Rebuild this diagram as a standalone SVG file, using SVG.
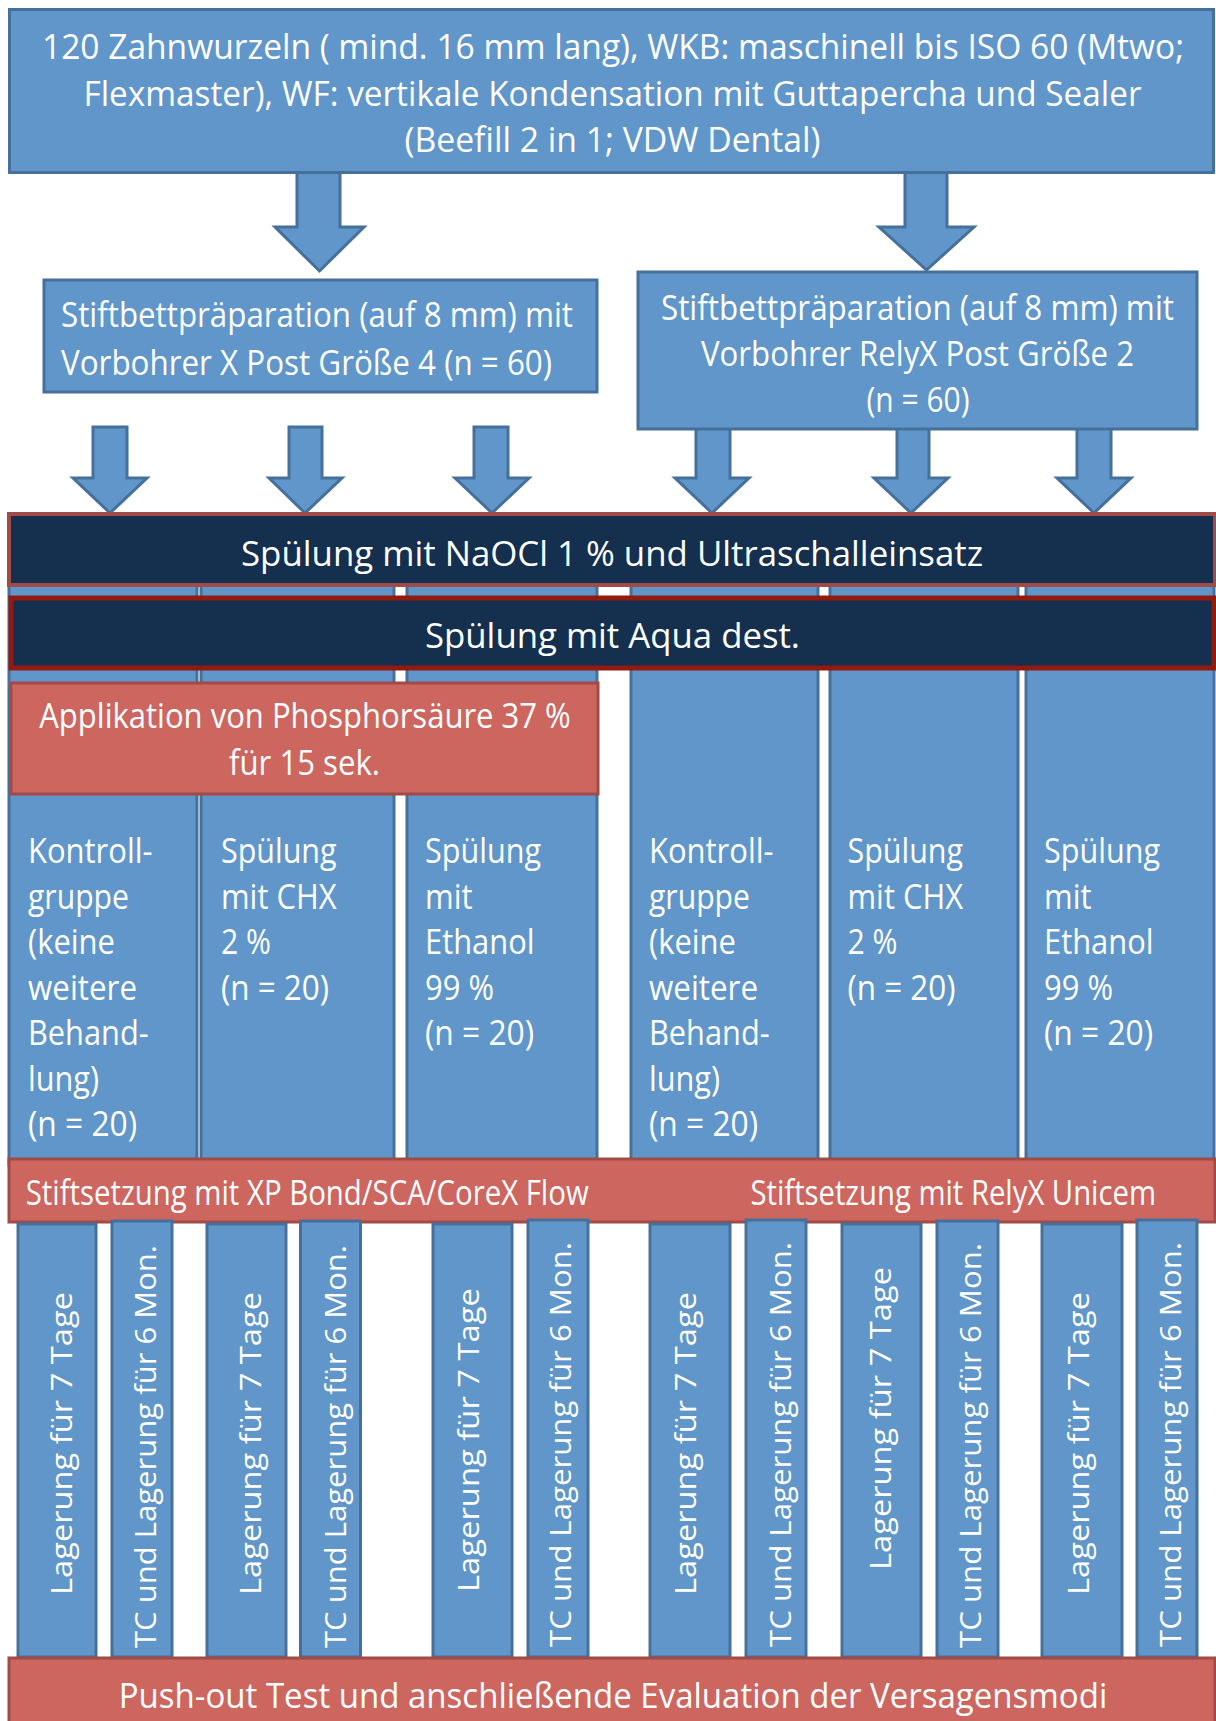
<svg xmlns="http://www.w3.org/2000/svg" width="1216" height="1721" viewBox="0 0 1216 1721">
<defs>
<style>
.blue{fill:#6196CA;stroke:#45709C;stroke-width:3}
.arrow{fill:#6196CA;stroke:#45709C;stroke-width:3;stroke-linejoin:miter}
.navy1{fill:#152F4F;stroke:#A04B48;stroke-width:4}
.navy2{fill:#152F4F;stroke:#931A0F;stroke-width:5}
.red{fill:#CD665F;stroke:#A04B46;stroke-width:3}
.t{font-family:"Open Sans","Liberation Sans",sans-serif;font-size:34px;fill:#FFFFFF}
.c{text-anchor:middle}
.v{font-family:"Open Sans","Liberation Sans",sans-serif;font-size:30px;fill:#FFFFFF;text-anchor:middle}
</style>
</defs>
<rect width="1216" height="1721" fill="#FFFFFF"/>

<g id="connectors">
<polygon class="arrow" points="297,165 340,165 340,227 364,227 319.5,271 275,227 297,227"/>
<polygon class="arrow" points="905,165 947,165 947,227 974,227 926.5,270 879,227 905,227"/>
<polygon class="arrow" points="93,427 127,427 127,478 147,478 110,513 73,478 93,478"/>
<polygon class="arrow" points="289,427 322,427 322,478 342,478 305,513 269,478 289,478"/>
<polygon class="arrow" points="474,427 508,427 508,478 529,478 492,513 455,478 474,478"/>
<polygon class="arrow" points="696,420 730,420 730,478 749,478 712,513 675,478 696,478"/>
<polygon class="arrow" points="897,420 929,420 929,478 948,478 911,513 874,478 897,478"/>
<polygon class="arrow" points="1077,420 1111,420 1111,478 1131,478 1094,513 1057,478 1077,478"/>
</g>

<g id="start">
<rect class="blue" x="9.5" y="9.5" width="1204" height="163"/>
<text class="t c" x="613" y="59" textLength="1142" lengthAdjust="spacingAndGlyphs">120 Zahnwurzeln ( mind. 16 mm lang), WKB: maschinell bis ISO 60 (Mtwo;</text>
<text class="t c" x="612.5" y="105.5" textLength="1058" lengthAdjust="spacingAndGlyphs">Flexmaster), WF: vertikale Kondensation mit Guttapercha und Sealer</text>
<text class="t c" x="612.5" y="152" textLength="416" lengthAdjust="spacingAndGlyphs">(Beefill 2 in 1; VDW Dental)</text>
</g>

<g id="prep-xpost">
<rect class="blue" x="44" y="280" width="553" height="112"/>
<text class="t" x="61" y="327" textLength="512" lengthAdjust="spacingAndGlyphs">Stiftbettpräparation (auf 8 mm) mit</text>
<text class="t" x="61" y="375" textLength="491" lengthAdjust="spacingAndGlyphs">Vorbohrer X Post Größe 4 (n = 60)</text>
</g>

<g id="prep-relyx">
<rect class="blue" x="638" y="272" width="559" height="157"/>
<text class="t c" x="917.5" y="320" textLength="513" lengthAdjust="spacingAndGlyphs">Stiftbettpräparation (auf 8 mm) mit</text>
<text class="t c" x="917.5" y="366" textLength="433" lengthAdjust="spacingAndGlyphs">Vorbohrer RelyX Post Größe 2</text>
<text class="t c" x="918" y="412" textLength="103" lengthAdjust="spacingAndGlyphs">(n = 60)</text>
</g>

<g id="col1">
<rect class="blue" x="9" y="530" width="188" height="635"/>
<text class="t" x="28" y="863" textLength="124.5" lengthAdjust="spacingAndGlyphs">Kontroll-</text>
<text class="t" x="28" y="908.5" textLength="101" lengthAdjust="spacingAndGlyphs">gruppe</text>
<text class="t" x="28" y="954" textLength="87" lengthAdjust="spacingAndGlyphs">(keine</text>
<text class="t" x="28" y="999.5" textLength="109" lengthAdjust="spacingAndGlyphs">weitere</text>
<text class="t" x="28" y="1045" textLength="120.6" lengthAdjust="spacingAndGlyphs">Behand-</text>
<text class="t" x="28" y="1090.5" textLength="71" lengthAdjust="spacingAndGlyphs">lung)</text>
<text class="t" x="28" y="1136" textLength="109" lengthAdjust="spacingAndGlyphs">(n = 20)</text>
</g>
<g id="col2">
<rect class="blue" x="201" y="530" width="193" height="635"/>
<text class="t" x="221" y="863" textLength="115.5" lengthAdjust="spacingAndGlyphs">Spülung</text>
<text class="t" x="221" y="908.5" textLength="115.5" lengthAdjust="spacingAndGlyphs">mit CHX</text>
<text class="t" x="221" y="954" textLength="50" lengthAdjust="spacingAndGlyphs">2 %</text>
<text class="t" x="221" y="999.5" textLength="108" lengthAdjust="spacingAndGlyphs">(n = 20)</text>
</g>
<g id="col3">
<rect class="blue" x="407" y="530" width="190" height="635"/>
<text class="t" x="425" y="863" textLength="116" lengthAdjust="spacingAndGlyphs">Spülung</text>
<text class="t" x="425" y="908.5" textLength="47.5" lengthAdjust="spacingAndGlyphs">mit</text>
<text class="t" x="425" y="954" textLength="109.5" lengthAdjust="spacingAndGlyphs">Ethanol</text>
<text class="t" x="425" y="999.5" textLength="69" lengthAdjust="spacingAndGlyphs">99 %</text>
<text class="t" x="425" y="1045" textLength="109" lengthAdjust="spacingAndGlyphs">(n = 20)</text>
</g>
<g id="col4">
<rect class="blue" x="631" y="530" width="187" height="635"/>
<text class="t" x="649" y="863" textLength="124.5" lengthAdjust="spacingAndGlyphs">Kontroll-</text>
<text class="t" x="649" y="908.5" textLength="101" lengthAdjust="spacingAndGlyphs">gruppe</text>
<text class="t" x="649" y="954" textLength="87" lengthAdjust="spacingAndGlyphs">(keine</text>
<text class="t" x="649" y="999.5" textLength="109" lengthAdjust="spacingAndGlyphs">weitere</text>
<text class="t" x="649" y="1045" textLength="120.6" lengthAdjust="spacingAndGlyphs">Behand-</text>
<text class="t" x="649" y="1090.5" textLength="71" lengthAdjust="spacingAndGlyphs">lung)</text>
<text class="t" x="649" y="1136" textLength="109" lengthAdjust="spacingAndGlyphs">(n = 20)</text>
</g>
<g id="col5">
<rect class="blue" x="830" y="530" width="188" height="635"/>
<text class="t" x="847.5" y="863" textLength="115.5" lengthAdjust="spacingAndGlyphs">Spülung</text>
<text class="t" x="847.5" y="908.5" textLength="115.5" lengthAdjust="spacingAndGlyphs">mit CHX</text>
<text class="t" x="847.5" y="954" textLength="50" lengthAdjust="spacingAndGlyphs">2 %</text>
<text class="t" x="847.5" y="999.5" textLength="108" lengthAdjust="spacingAndGlyphs">(n = 20)</text>
</g>
<g id="col6">
<rect class="blue" x="1026" y="530" width="188" height="635"/>
<text class="t" x="1044" y="863" textLength="116" lengthAdjust="spacingAndGlyphs">Spülung</text>
<text class="t" x="1044" y="908.5" textLength="47.5" lengthAdjust="spacingAndGlyphs">mit</text>
<text class="t" x="1044" y="954" textLength="109.5" lengthAdjust="spacingAndGlyphs">Ethanol</text>
<text class="t" x="1044" y="999.5" textLength="69" lengthAdjust="spacingAndGlyphs">99 %</text>
<text class="t" x="1044" y="1045" textLength="109" lengthAdjust="spacingAndGlyphs">(n = 20)</text>
</g>

<g id="naocl">
<rect class="navy1" x="9" y="514" width="1206" height="71"/>
<text class="t c" x="612" y="566" textLength="742" lengthAdjust="spacingAndGlyphs">Spülung mit NaOCl 1 % und Ultraschalleinsatz</text>
</g>
<g id="aqua">
<rect class="navy2" x="11" y="598" width="1203" height="70"/>
<text class="t c" x="612.5" y="648" textLength="375" lengthAdjust="spacingAndGlyphs">Spülung mit Aqua dest.</text>
</g>
<g id="phosphor">
<rect class="red" x="11" y="683" width="587" height="111"/>
<text class="t c" x="305" y="728" textLength="531.5" lengthAdjust="spacingAndGlyphs">Applikation von Phosphorsäure 37 %</text>
<text class="t c" x="304.5" y="775" textLength="151" lengthAdjust="spacingAndGlyphs">für 15 sek.</text>
</g>

<g id="stiftsetzung">
<rect class="red" x="9" y="1159" width="1206" height="63"/>
<text class="t" x="25.7" y="1205" textLength="563" lengthAdjust="spacingAndGlyphs">Stiftsetzung mit XP Bond/SCA/CoreX Flow</text>
<text class="t" x="750.5" y="1205" textLength="405.5" lengthAdjust="spacingAndGlyphs">Stiftsetzung mit RelyX Unicem</text>
</g>

<g id="b1"><rect class="blue" x="18" y="1224" width="78" height="433"/><text class="v" transform="translate(72,1443.5) rotate(-90)" textLength="303" lengthAdjust="spacingAndGlyphs">Lagerung für 7 Tage</text></g>
<g id="b2"><rect class="blue" x="112" y="1221" width="60" height="436"/><text class="v" transform="translate(156,1446.5) rotate(-90)" textLength="403" lengthAdjust="spacingAndGlyphs">TC und Lagerung für 6 Mon.</text></g>
<g id="b3"><rect class="blue" x="207" y="1224" width="79" height="433"/><text class="v" transform="translate(261,1443.5) rotate(-90)" textLength="303" lengthAdjust="spacingAndGlyphs">Lagerung für 7 Tage</text></g>
<g id="b4"><rect class="blue" x="300.5" y="1221" width="60" height="436"/><text class="v" transform="translate(346,1446.5) rotate(-90)" textLength="403" lengthAdjust="spacingAndGlyphs">TC und Lagerung für 6 Mon.</text></g>
<g id="b5"><rect class="blue" x="433" y="1224" width="79" height="433"/><text class="v" transform="translate(478.5,1440) rotate(-90)" textLength="304" lengthAdjust="spacingAndGlyphs">Lagerung für 7 Tage</text></g>
<g id="b6"><rect class="blue" x="528" y="1220" width="60" height="437"/><text class="v" transform="translate(571,1444.5) rotate(-90)" textLength="405" lengthAdjust="spacingAndGlyphs">TC und Lagerung für 6 Mon.</text></g>
<g id="b7"><rect class="blue" x="650" y="1224" width="80" height="433"/><text class="v" transform="translate(696,1443.5) rotate(-90)" textLength="303" lengthAdjust="spacingAndGlyphs">Lagerung für 7 Tage</text></g>
<g id="b8"><rect class="blue" x="746" y="1220" width="60" height="437"/><text class="v" transform="translate(790.6,1444.5) rotate(-90)" textLength="405" lengthAdjust="spacingAndGlyphs">TC und Lagerung für 6 Mon.</text></g>
<g id="b9"><rect class="blue" x="842" y="1224" width="79" height="433"/><text class="v" transform="translate(891,1418.5) rotate(-90)" textLength="303" lengthAdjust="spacingAndGlyphs">Lagerung für 7 Tage</text></g>
<g id="b10"><rect class="blue" x="937" y="1221" width="61" height="436"/><text class="v" transform="translate(981,1445.5) rotate(-90)" textLength="405" lengthAdjust="spacingAndGlyphs">TC und Lagerung für 6 Mon.</text></g>
<g id="b11"><rect class="blue" x="1042" y="1224" width="80" height="433"/><text class="v" transform="translate(1089,1443.5) rotate(-90)" textLength="303" lengthAdjust="spacingAndGlyphs">Lagerung für 7 Tage</text></g>
<g id="b12"><rect class="blue" x="1137" y="1220" width="60" height="437"/><text class="v" transform="translate(1181,1444.5) rotate(-90)" textLength="405" lengthAdjust="spacingAndGlyphs">TC und Lagerung für 6 Mon.</text></g>

<g id="pushout">
<rect class="red" x="9" y="1658" width="1206" height="70"/>
<text class="t c" x="613" y="1708" textLength="988.5" lengthAdjust="spacingAndGlyphs">Push-out Test und anschließende Evaluation der Versagensmodi</text>
</g>
</svg>
